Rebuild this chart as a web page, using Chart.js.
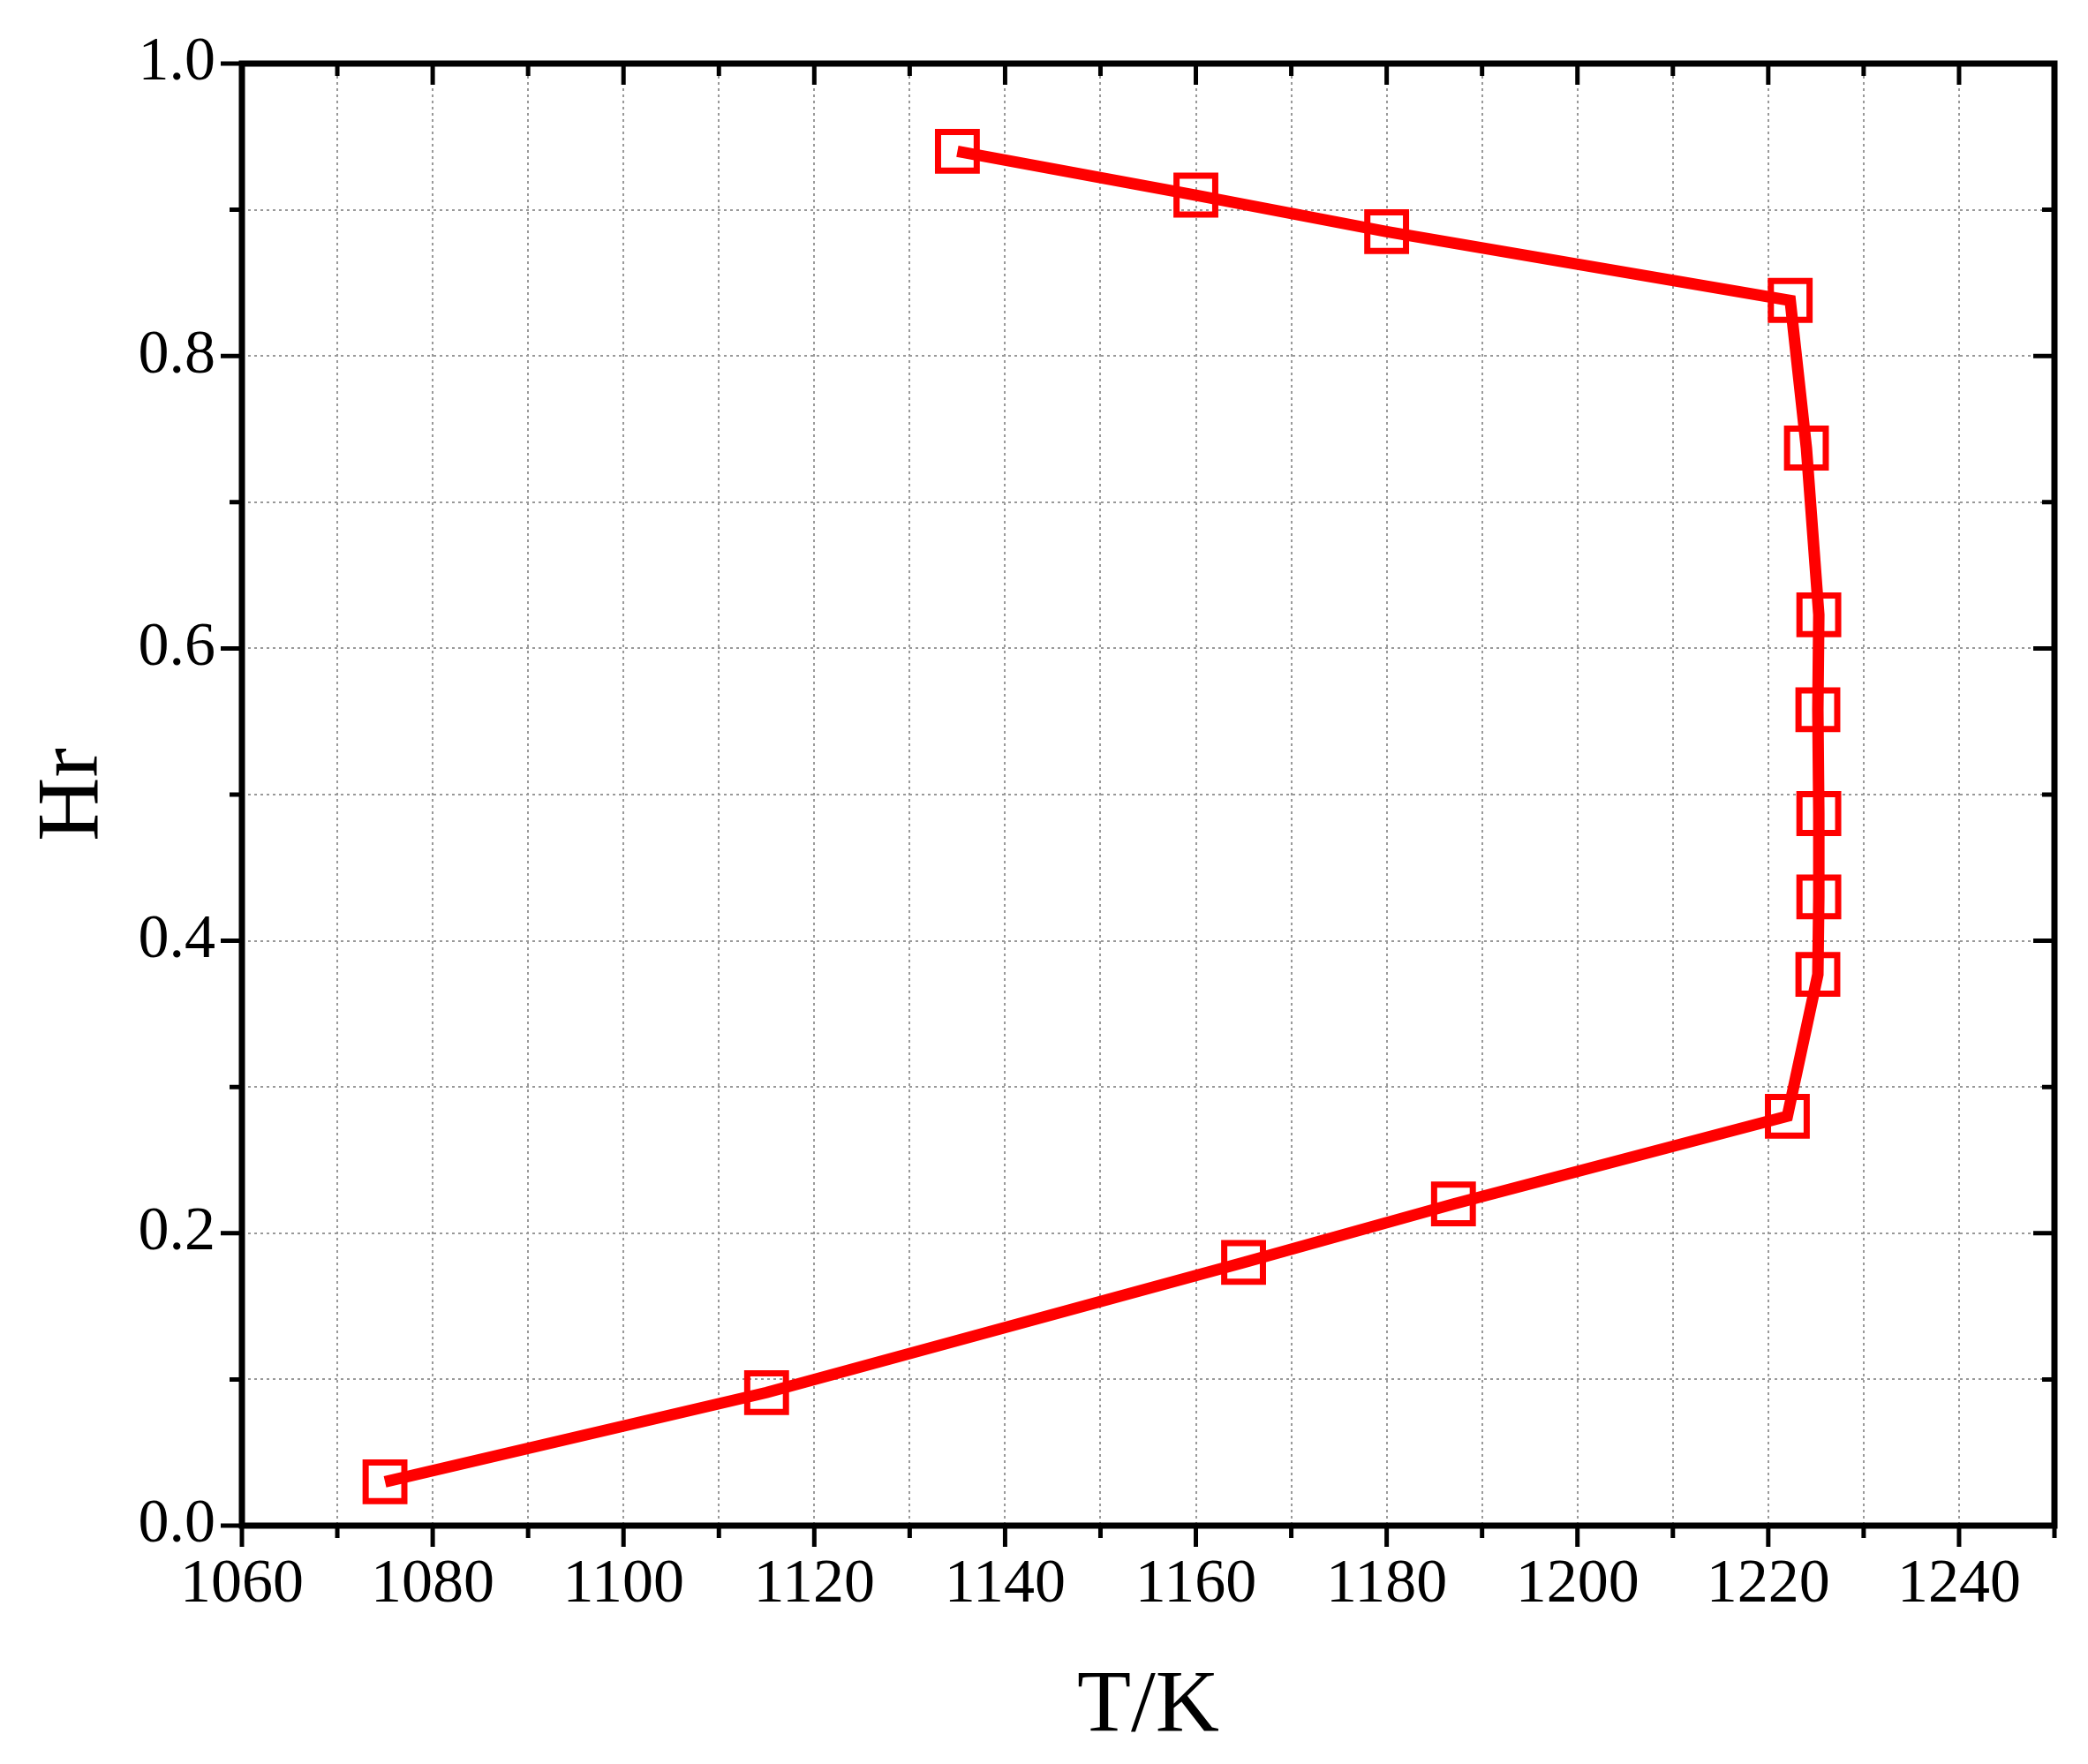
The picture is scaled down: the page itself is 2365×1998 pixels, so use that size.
<!DOCTYPE html>
<html>
<head>
<meta charset="utf-8">
<script src="https://cdn.jsdelivr.net/npm/chart.js@4"></script>
<style>
  html, body { margin: 0; padding: 0; background: #fff; }
  #wrap { width: 2365px; height: 1998px; }
</style>
</head>
<body>
<div id="wrap"><canvas id="c" width="2365" height="1998"></canvas></div>
<script>
// temperature (K) and relative height Hr
const temps = [1135, 1160, 1180, 1222.3, 1224, 1225.3, 1225.2, 1225.3, 1225.3, 1225.2, 1222, 1187, 1165, 1115, 1075];
const hr = [0.94, 0.91, 0.885, 0.838, 0.737, 0.623, 0.558, 0.487, 0.43, 0.377, 0.28, 0.22, 0.18, 0.091, 0.03];
const xTickLabels = [1060, 1080, 1100, 1120, 1140, 1160, 1180, 1200, 1220, 1240];
const yTickLabels = [0.0, 0.2, 0.4, 0.6, 0.8, 1.0];

const points = temps.map((t, i) => ({ x: t, y: hr[i] }));
const font = 'Liberation Serif, Times New Roman, serif';

// frame plus major/minor tick marks like the original plot
const framePlugin = {
  id: 'frame',
  afterDraw(chart) {
    const { ctx, chartArea: a, scales: { x, y } } = chart;
    ctx.save();
    ctx.strokeStyle = '#000';
    ctx.lineWidth = 7;
    ctx.strokeRect(a.left, a.top, a.right - a.left, a.bottom - a.top);
    ctx.lineWidth = 5;
    for (let v = 1060; v <= 1250; v += 10) {
      const px = x.getPixelForValue(v);
      const len = v % 20 === 0 ? 24 : 14;
      ctx.beginPath();
      ctx.moveTo(px, a.bottom); ctx.lineTo(px, a.bottom + len);
      ctx.moveTo(px, a.top); ctx.lineTo(px, a.top + len);
      ctx.stroke();
    }
    for (let k = 0; k <= 10; k++) {
      const py = y.getPixelForValue(k / 10);
      const len = k % 2 === 0 ? 24 : 14;
      ctx.beginPath();
      ctx.moveTo(a.left, py); ctx.lineTo(a.left - len, py);
      ctx.moveTo(a.right, py); ctx.lineTo(a.right - len, py);
      ctx.stroke();
    }
    ctx.restore();
  }
};

new Chart(document.getElementById('c'), {
  type: 'scatter',
  data: {
    datasets: [{
      data: points,
      showLine: true,
      borderColor: '#ff0000',
      borderWidth: 13,
      pointStyle: 'rect',
      pointRadius: 31,
      pointBorderWidth: 7,
      pointBackgroundColor: 'rgba(0,0,0,0)',
      pointBorderColor: '#ff0000'
    }]
  },
  options: {
    responsive: false,
    animation: false,
    devicePixelRatio: 1,
    layout: { padding: { top: 45, right: 23, left: 20, bottom: 0 } },
    plugins: { legend: { display: false }, tooltip: { enabled: false } },
    scales: {
      x: {
        type: 'linear', min: 1060, max: 1250,
        afterBuildTicks: s => { s.ticks = []; for (let v = 1060; v <= 1250; v += 10) s.ticks.push({ value: v }); },
        afterFit: s => { s.height = 270; },
        ticks: {
          color: '#000', font: { family: font, size: 70 }, padding: 26, maxRotation: 0, autoSkip: false,
          callback: v => xTickLabels.includes(v) ? String(v) : ''
        },
        grid: { color: '#999', lineWidth: 2, drawTicks: false },
        border: { display: false, dash: [3, 4] },
        title: { display: true, text: 'T/K', color: '#000', font: { family: font, size: 100 }, padding: { top: 20 } }
      },
      y: {
        type: 'linear', min: 0, max: 1,
        afterBuildTicks: s => { s.ticks = []; for (let k = 0; k <= 10; k++) s.ticks.push({ value: k / 10 }); },
        afterFit: s => { s.width = 254; },
        ticks: {
          color: '#000', font: { family: font, size: 70 }, padding: 30, autoSkip: false,
          callback: v => { const k = Math.round(v * 10); return k % 2 === 0 ? yTickLabels[k / 2].toFixed(1) : ''; }
        },
        grid: { color: '#999', lineWidth: 2, drawTicks: false },
        border: { display: false, dash: [3, 4] },
        title: { display: true, text: 'Hr', color: '#000', font: { family: font, size: 100 }, padding: { bottom: 0 } }
      }
    }
  },
  plugins: [framePlugin]
});
</script>
</body>
</html>
